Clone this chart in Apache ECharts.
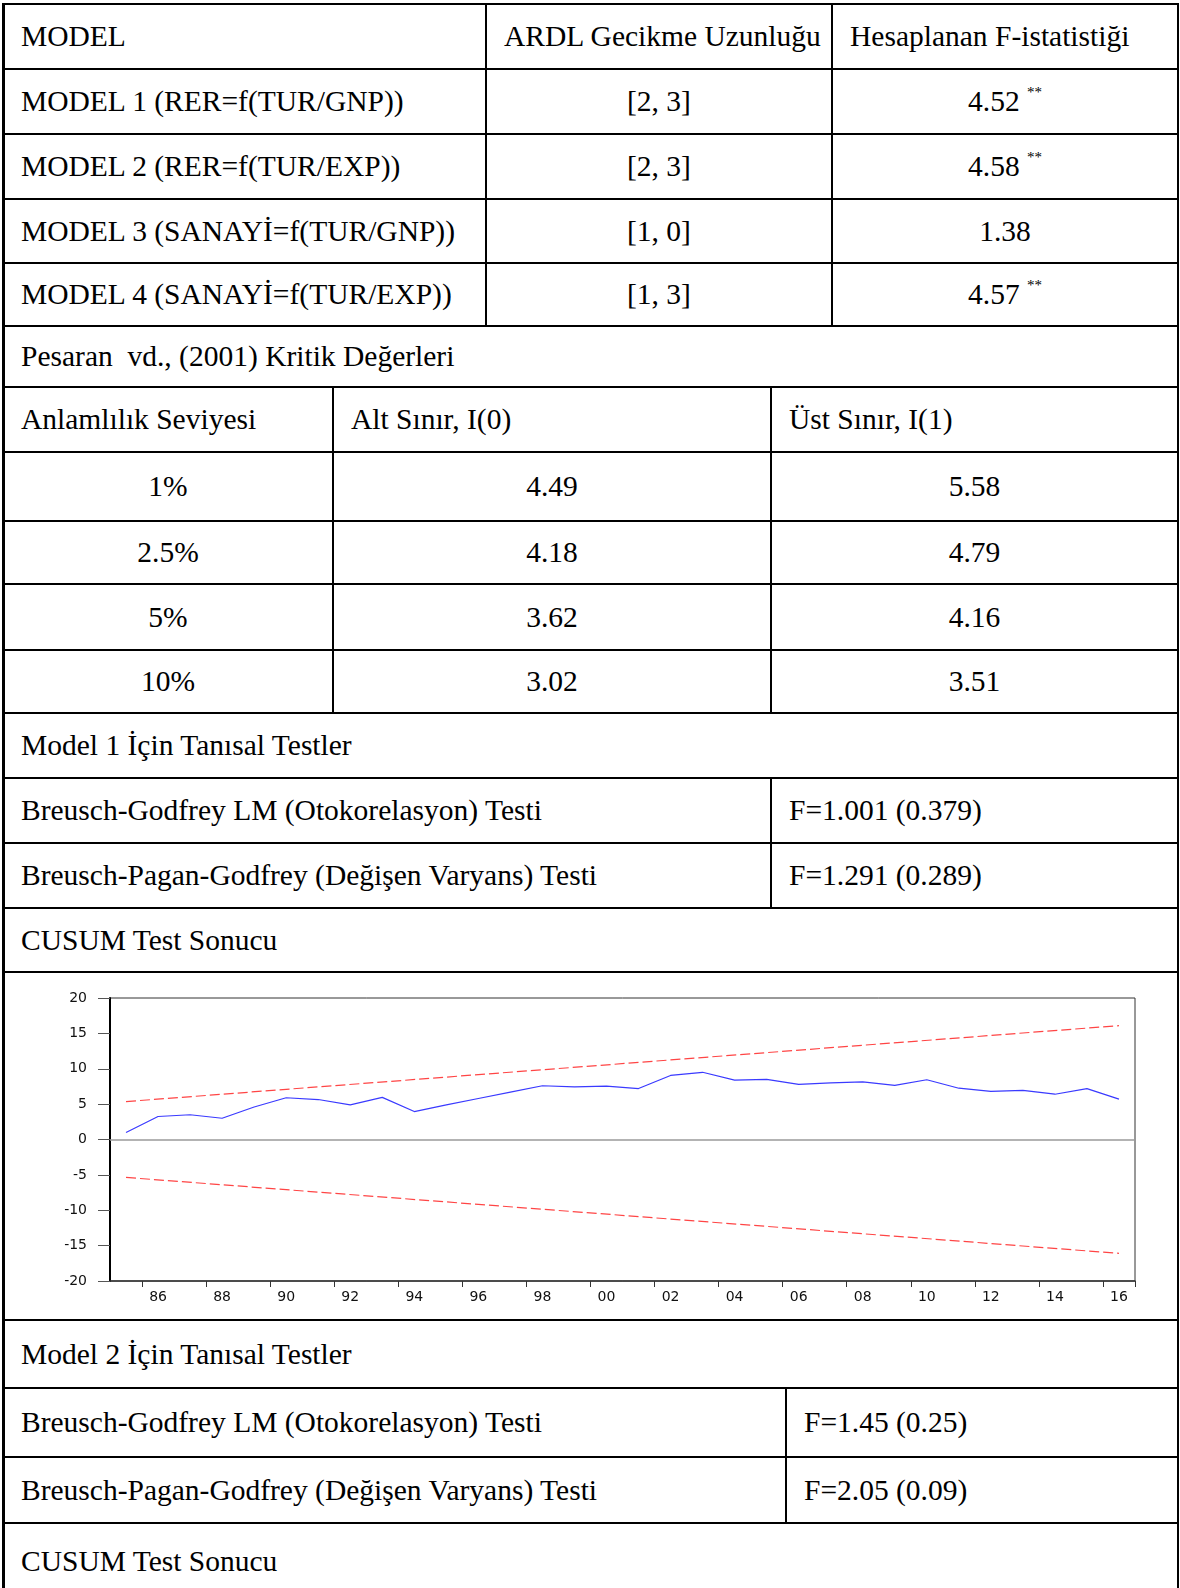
<!DOCTYPE html>
<html>
<head>
<meta charset="utf-8">
<script src="https://cdn.jsdelivr.net/npm/echarts@6/dist/echarts.min.js"></script>
<style>
  html, body { margin: 0; padding: 0; background: #fff; }
  #page {
    position: relative; width: 1180px; height: 1588px; overflow: hidden;
    font-family: "Liberation Serif", "Times New Roman", serif; font-size: 29.5px; color: #000;
  }
  .hl { position: absolute; height: 2px; background: #000; }
  .vl { position: absolute; background: #000; }
  .cell { position: absolute; display: flex; align-items: center; white-space: pre; box-sizing: border-box; }
  .cell.left { padding-left: 18px; }
  .cell.center { justify-content: center; }
  .stars { font-size: 15px; position: relative; top: -9px; }
  #cusum { position: absolute; left: 0; top: 974px; width: 1180px; height: 344px; }
</style>
</head>
<body>
<div id="page">
  <div id="cusum"></div>
</div>
<script>
// tablo verileri
const models = ['MODEL 1 (RER=f(TUR/GNP))', 'MODEL 2 (RER=f(TUR/EXP))', 'MODEL 3 (SANAYİ=f(TUR/GNP))', 'MODEL 4 (SANAYİ=f(TUR/EXP))'];
const lags = ['[2, 3]', '[2, 3]', '[1, 0]', '[1, 3]'];
const fStats = ['4.52', '4.58', '1.38', '4.57'];
const fStars = ['**', '**', '', '**'];
const levels = ['1%', '2.5%', '5%', '10%'];
const lowerI0 = ['4.49', '4.18', '3.62', '3.02'];
const upperI1 = ['5.58', '4.79', '4.16', '3.51'];
const tests = ['Breusch-Godfrey LM (Otokorelasyon) Testi', 'Breusch-Pagan-Godfrey (Değişen Varyans) Testi'];
const model1Tests = ['F=1.001 (0.379)', 'F=1.291 (0.289)'];
const model2Tests = ['F=1.45 (0.25)', 'F=2.05 (0.09)'];

// CUSUM grafiği verileri
const years = ['1985', '1986', '1987', '1988', '1989', '1990', '1991', '1992', '1993', '1994', '1995',
  '1996', '1997', '1998', '1999', '2000', '2001', '2002', '2003', '2004', '2005', '2006', '2007',
  '2008', '2009', '2010', '2011', '2012', '2013', '2014', '2015', '2016'];
const cusum = [1.0, 3.25, 3.5, 3.0, 4.6, 5.9, 5.65, 4.9, 5.95, 3.95, 4.9, 5.8, 6.7, 7.6, 7.45, 7.55,
  7.2, 9.05, 9.5, 8.4, 8.5, 7.8, 8.0, 8.15, 7.65, 8.45, 7.25, 6.8, 6.95, 6.4, 7.2, 5.7];
const upperBound = [['1985', 5.36], ['2016', 16.09]];
const lowerBound = [['1985', -5.36], ['2016', -16.09]];

// satır sınırları (piksel)
const rowY = [4, 69, 134, 199, 263, 326, 387, 452, 521, 584, 650, 713, 778, 843, 908, 972, 1320, 1388, 1457, 1523, 1600];
const L = 3, R = 1178;

const rows = [];
rows.push([[L, 486, 'MODEL', 'left'], [486, 832, 'ARDL Gecikme Uzunluğu', 'left'], [832, R, 'Hesaplanan F-istatistiği', 'left']]);
for (let i = 0; i < models.length; i++) {
  const f = fStats[i] + (fStars[i] ? ' <span class="stars">' + fStars[i] + '</span>' : '');
  rows.push([[L, 486, models[i], 'left'], [486, 832, lags[i], 'center'], [832, R, f, 'center']]);
}
rows.push([[L, R, 'Pesaran  vd., (2001) Kritik Değerleri', 'left']]);
rows.push([[L, 333, 'Anlamlılık Seviyesi', 'left'], [333, 771, 'Alt Sınır, I(0)', 'left'], [771, R, 'Üst Sınır, I(1)', 'left']]);
for (let i = 0; i < levels.length; i++) {
  rows.push([[L, 333, levels[i], 'center'], [333, 771, lowerI0[i], 'center'], [771, R, upperI1[i], 'center']]);
}
rows.push([[L, R, 'Model 1 İçin Tanısal Testler', 'left']]);
rows.push([[L, 771, tests[0], 'left'], [771, R, model1Tests[0], 'left']]);
rows.push([[L, 771, tests[1], 'left'], [771, R, model1Tests[1], 'left']]);
rows.push([[L, R, 'CUSUM Test Sonucu', 'left']]);
rows.push([]); // grafik satırı
rows.push([[L, R, 'Model 2 İçin Tanısal Testler', 'left']]);
rows.push([[L, 786, tests[0], 'left'], [786, R, model2Tests[0], 'left']]);
rows.push([[L, 786, tests[1], 'left'], [786, R, model2Tests[1], 'left']]);
rows.push([[L, R, 'CUSUM Test Sonucu', 'left']]);

const page = document.getElementById('page');
function add(cls, css, html) {
  const d = document.createElement('div');
  d.className = cls;
  Object.assign(d.style, css);
  if (html) d.innerHTML = html;
  page.appendChild(d);
}

rows.forEach((cells, r) => {
  const y0 = rowY[r], y1 = rowY[r + 1];
  add('hl', { left: L + 'px', width: (R - L) + 'px', top: (y0 - 1) + 'px' });
  cells.forEach((c, k) => {
    add('cell ' + c[3], { left: c[0] + 'px', width: (c[1] - c[0]) + 'px', top: y0 + 'px', height: (y1 - y0) + 'px' }, c[2]);
    if (k > 0) add('vl', { left: (c[0] - 0.75) + 'px', width: '1.5px', top: y0 + 'px', height: (y1 - y0) + 'px' });
  });
});
add('vl', { left: (L - 1) + 'px', width: '2.5px', top: (rowY[0] - 1) + 'px', height: '1600px' });
add('vl', { left: (R - 1.5) + 'px', width: '2.5px', top: (rowY[0] - 1) + 'px', height: '1600px' });

// CUSUM grafiği
const chart = echarts.init(document.getElementById('cusum'));
const everyOther = (i) => i % 2 === 1;
chart.setOption({
  animation: false,
  grid: { left: 110, right: 45, top: 24, bottom: 37, show: true, borderColor: '#333', borderWidth: 1 },
  xAxis: {
    type: 'category',
    data: years,
    axisLine: { show: true, onZero: false, lineStyle: { color: '#333', width: 1.5 } },
    axisTick: { show: true, interval: everyOther, length: 6, lineStyle: { color: '#333' } },
    axisLabel: {
      interval: everyOther, margin: 9, fontFamily: 'DejaVu Sans', fontSize: 14, color: '#111',
      formatter: (v) => v.slice(2)
    },
    splitLine: { show: false }
  },
  yAxis: {
    type: 'value',
    min: -20, max: 20, interval: 5,
    axisLine: { show: true, lineStyle: { color: '#000', width: 2 } },
    axisTick: { show: true, length: 12, lineStyle: { color: '#555' } },
    axisLabel: { margin: 23, fontFamily: 'DejaVu Sans', fontSize: 14, color: '#111' },
    splitLine: { show: false }
  },
  series: [
    {
      name: 'CUSUM', type: 'line', data: cusum, symbol: 'none', z: 3,
      lineStyle: { color: '#3a3aff', width: 1.2 },
      markLine: {
        silent: true, symbol: ['none', 'none'], label: { show: false },
        lineStyle: { color: '#9a9a9a', width: 1.5, type: 'solid' },
        data: [{ yAxis: 0 }]
      }
    },
    {
      name: '5% Significance', type: 'line', data: upperBound, symbol: 'none',
      lineStyle: { color: '#ff4545', width: 1.2, type: [10, 4] }
    },
    {
      name: '5% Significance (alt)', type: 'line', data: lowerBound, symbol: 'none',
      lineStyle: { color: '#ff4545', width: 1.2, type: [10, 4] }
    }
  ]
});
</script>
</body>
</html>
